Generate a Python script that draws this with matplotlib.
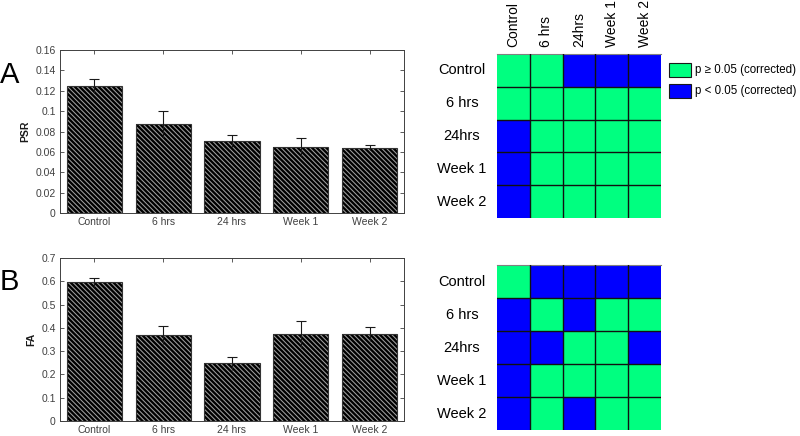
import matplotlib
matplotlib.use("Agg")
import matplotlib.pyplot as plt
import numpy as np
from matplotlib.colors import ListedColormap
from matplotlib.patches import Rectangle

plt.rcParams['font.family'] = ['Liberation Sans', 'DejaVu Sans']
plt.rcParams['hatch.linewidth'] = 0.75

groups = ["Control", "6 hrs", "24 hrs", "Week 1", "Week 2"]
heat_labels = ["Control", "6 hrs", "24hrs", "Week 1", "Week 2"]

psr_mean = [0.125, 0.087, 0.071, 0.065, 0.064]
psr_err = [0.007, 0.013, 0.006, 0.009, 0.0025]
fa_mean = [0.595, 0.370, 0.248, 0.373, 0.373]
fa_err = [0.020, 0.040, 0.027, 0.058, 0.030]

# 1 = p >= 0.05 (green), 0 = p < 0.05 (blue)
sig_psr = [[1, 1, 0, 0, 0],
           [1, 1, 1, 1, 1],
           [0, 1, 1, 1, 1],
           [0, 1, 1, 1, 1],
           [0, 1, 1, 1, 1]]
sig_fa = [[1, 0, 0, 0, 0],
          [0, 1, 0, 1, 1],
          [0, 0, 1, 1, 0],
          [0, 1, 1, 1, 1],
          [0, 1, 0, 1, 1]]

GREEN = '#00ff80'
BLUE = '#0000ff'
W, H = 800, 436
fig = plt.figure(figsize=(8, 4.36), dpi=100)

def ax_px(x0, y0, x1, y1):
    return fig.add_axes([x0 / W, 1 - y1 / H, (x1 - x0) / W, (y1 - y0) / H])

def bar_panel(ax, means, errs, ylim, yticks, ylabel):
    x = np.arange(1, len(groups) + 1)
    ax.bar(x, means, width=0.8, color='black', edgecolor='#a0a0a0',
           hatch='\\' * 7, linewidth=0, zorder=2)
    ax.bar(x, means, width=0.8, fill=False, edgecolor='#333333',
           linewidth=0.8, zorder=3)
    lo = np.array(means) - np.array(errs)
    hi = np.array(means) + np.array(errs)
    ax.vlines(x, lo, hi, color='#1a1a1a', linewidth=0.8, zorder=4)
    ax.plot(x, hi, linestyle='none', marker='_', markersize=7,
            markeredgewidth=0.8, color='#1a1a1a', zorder=4)
    ax.set_xlim(0.5, 5.5)
    ax.set_ylim(*ylim)
    ax.set_yticks(yticks)
    ax.set_yticklabels([('%g' % t) for t in yticks])
    ax.set_xticks(x)
    ax.set_xticklabels(groups)
    ax.tick_params(direction='in', length=3, width=0.6, labelsize=7.5,
                   labelcolor='#404040', color='#404040',
                   top=True, right=True, pad=3)
    for s in ax.spines.values():
        s.set_color('#404040')
        s.set_linewidth(0.7)
    ax.set_ylabel(ylabel, fontsize=7.5, fontweight='bold', color='#1a1a1a',
                  labelpad=4)

axA = ax_px(60, 50, 404, 213)
bar_panel(axA, psr_mean, psr_err, (0, 0.16),
          [0, 0.02, 0.04, 0.06, 0.08, 0.1, 0.12, 0.14, 0.16], 'PSR')
axB = ax_px(60, 258, 404, 421)
bar_panel(axB, fa_mean, fa_err, (0, 0.7),
          [0, 0.1, 0.2, 0.3, 0.4, 0.5, 0.6, 0.7], 'FA')

fig.text(0 / W, 1 - 75 / H, 'A', fontsize=21, va='center', ha='left')
fig.text(0 / W, 1 - 282 / H, 'B', fontsize=21, va='center', ha='left')

cmap = ListedColormap([BLUE, GREEN])

def heat_panel(ax, mat, col_labels):
    m = np.array(mat)
    ax.pcolormesh(m, cmap=cmap, vmin=0, vmax=1, edgecolors='none', zorder=1)
    n = m.shape[0]
    for k in range(1, n):
        ax.axhline(k, color='#111111', linewidth=1.0, zorder=3)
        ax.axvline(k, color='#111111', linewidth=1.0, zorder=3)
    ax.set_xlim(0, 5)
    ax.set_ylim(5, 0)
    ax.set_xticks([])
    ax.set_yticks([])
    for s in ax.spines.values():
        s.set_visible(False)
    ax.spines['top'].set_visible(True)
    ax.spines['top'].set_color('#808080')
    ax.spines['top'].set_linewidth(0.8)
    for i, lab in enumerate(heat_labels):
        ax.text(-1.07, i + 0.5, lab, fontsize=10.5, ha='center', va='center',
                clip_on=False)
        if col_labels:
            ax.text(i + 0.5, -0.2, lab, fontsize=10, rotation=90,
                    ha='center', va='bottom', clip_on=False)

hA = ax_px(497, 54, 661, 218)
heat_panel(hA, sig_psr, True)
hB = ax_px(497, 265, 661, 430)
heat_panel(hB, sig_fa, False)

# legend
legend_items = [(GREEN, 'p \u2265 0.05 (corrected)'),
                (BLUE, 'p < 0.05 (corrected)')]
for k, (c, t) in enumerate(legend_items):
    y0 = 63 + k * 21
    fig.patches.append(Rectangle((669 / W, 1 - (y0 + 14) / H), 22 / W, 14 / H,
                                 transform=fig.transFigure, facecolor=c,
                                 edgecolor='#1a1a1a', linewidth=0.8))
    fig.text(695 / W, 1 - (y0 + 7) / H, t, fontsize=8.3, va='center',
             ha='left')

fig.savefig('out.png', dpi=100)
